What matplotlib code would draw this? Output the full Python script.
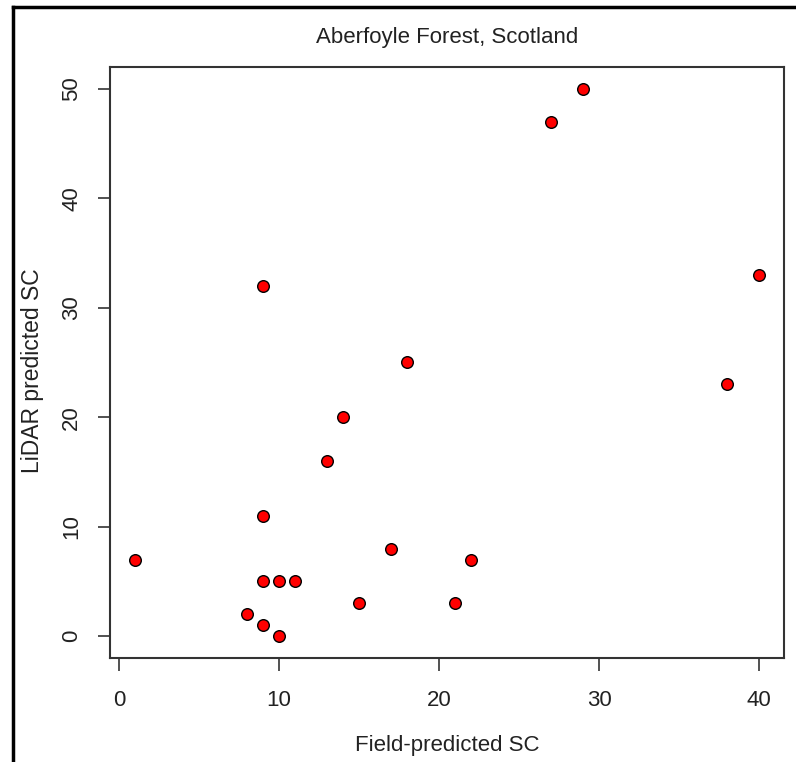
import matplotlib.pyplot as plt
from matplotlib.lines import Line2D

# Field-predicted vs LiDAR-predicted stem counts, Aberfoyle plots
field_sc = [1, 8, 9, 9, 9, 9, 10, 10, 11, 13, 14, 15, 17, 18, 21, 22, 27, 29, 38, 40]
lidar_sc = [7, 2, 1, 5, 11, 32, 0, 5, 5, 16, 20, 3, 8, 25, 3, 7, 47, 50, 23, 33]

X_TICKS = [0, 10, 20, 30, 40]
Y_TICKS = [0, 10, 20, 30, 40, 50]

plt.rcParams['font.family'] = ['Liberation Sans', 'DejaVu Sans']
FS = 16

W, H = 796, 762
fig = plt.figure(figsize=(W / 100, H / 100), dpi=100)
ax = fig.add_axes([110 / W, 1 - 658 / H, 674 / W, 591 / H])

ax.scatter(field_sc, lidar_sc, s=70, c='red', edgecolors='black',
           linewidths=1.0, zorder=3)

# R-style 4% padding around the data range
xmin, xmax = min(field_sc), max(field_sc)
ymin, ymax = min(lidar_sc), max(lidar_sc)
ax.set_xlim(xmin - 0.04 * (xmax - xmin), xmax + 0.04 * (xmax - xmin))
ax.set_ylim(ymin - 0.04 * (ymax - ymin), ymax + 0.04 * (ymax - ymin))

ax.set_xticks(X_TICKS)
ax.set_yticks(Y_TICKS)
ax.tick_params(direction='out', length=9, width=1.2, color='#333333',
               labelsize=FS, labelcolor='#222222')
ax.tick_params(axis='x', pad=14)
ax.tick_params(axis='y', pad=11)
for lab in ax.get_yticklabels():
    lab.set_rotation(90)
    lab.set_va('center')

for sp in ax.spines.values():
    sp.set_color('#333333')
    sp.set_linewidth(1.5)

cx = ax.get_position().x0 + ax.get_position().width / 2
fig.text(cx, 1 - 38 / H, 'Aberfoyle Forest, Scotland', ha='center',
         va='center', fontsize=FS, color='#222222')
fig.text(cx, 1 - 745 / H, 'Field-predicted SC', ha='center', va='center',
         fontsize=FS, color='#222222')
fig.text(33 / W, 1 - 371 / H, 'LiDAR predicted SC', ha='center', va='center',
         rotation=90, fontsize=16.5, color='#222222')

# outer frame: left and top edges only
fig.add_artist(Line2D([13 / W, 13 / W], [0, 1 - 7 / H], color='black', lw=2.5))
fig.add_artist(Line2D([13 / W, 1], [1 - 7 / H, 1 - 7 / H], color='black', lw=2.5))

fig.savefig('out.png', dpi=100)
